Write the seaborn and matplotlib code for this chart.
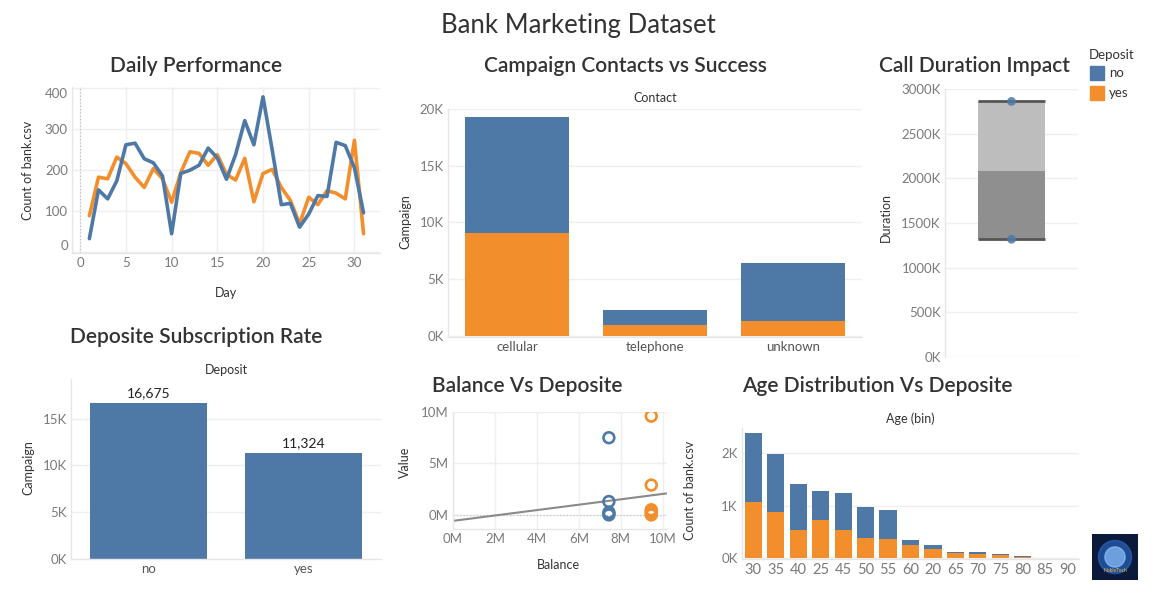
import matplotlib.pyplot as plt
import matplotlib.ticker as mticker
import numpy as np
import pandas as pd
import seaborn as sns
from matplotlib.patches import Circle, Rectangle

# ---- data ----
days = list(range(1, 32))
daily_no = [33, 152, 130, 174, 262, 266, 228, 218, 186, 45, 192, 200, 212, 254, 230,
            178, 238, 321, 262, 379, 250, 116, 119, 61, 93, 138, 136, 268, 260, 206, 96]
daily_yes = [89, 183, 179, 232, 216, 183, 158, 204, 179, 122, 194, 245, 241, 212, 238,
             190, 176, 229, 123, 192, 202, 158, 126, 69, 134, 116, 150, 144, 130, 273, 45]

contacts = ["cellular", "telephone", "unknown"]
contact_no = [10200, 1330, 5150]
contact_yes = [9100, 920, 1300]

duration_low = 1318000
duration_median = 2079000
duration_high = 2861000
duration_points = [2861000, 1318000]

deposit_labels = ["no", "yes"]
deposit_campaign = [16675, 11324]

balance_no_x = [7.43e6] * 5
balance_no_y = [7.5e6, 1.3e6, 0.25e6, 0.1e6, 0.0]
balance_yes_x = [9.45e6] * 6
balance_yes_y = [9.6e6, 2.9e6, 0.5e6, 0.3e6, 0.1e6, 0.0]
trend_slope = 0.262
trend_intercept = -0.58e6

age_bins = ["30", "35", "40", "25", "45", "50", "55", "60", "20", "65", "70", "75", "80", "85", "90"]
age_no = [1310, 1100, 860, 550, 700, 590, 540, 90, 80, 17, 37, 20, 20, 16, 2]
age_yes = [1060, 870, 540, 720, 530, 390, 370, 260, 180, 110, 90, 70, 30, 0, 0]

BLUE = "#4e79a7"
ORANGE = "#f28e2b"
GRID = "#efefef"
TICK = "#7a7a7a"
DARK = "#333333"

sns.set_theme(style="white")
plt.rcParams["font.family"] = ["Lato", "DejaVu Sans"]

W, H = 1155, 592
fig = plt.figure(figsize=(W / 100, H / 100), dpi=100)


def px_axes(x0, y0, x1, y1):
    return fig.add_axes([x0 / W, 1 - y1 / H, (x1 - x0) / W, (y1 - y0) / H])


def ftext(x, y, s, **kw):
    kw.setdefault("ha", "center")
    kw.setdefault("va", "center")
    kw.setdefault("color", DARK)
    fig.text(x / W, 1 - y / H, s, **kw)


def style_axes(ax, ygrid=True, xgrid=False):
    for side in ["top", "right"]:
        ax.spines[side].set_visible(False)
    for side in ["left", "bottom"]:
        ax.spines[side].set_color("#e6e6e6")
        ax.spines[side].set_linewidth(1)
    ax.tick_params(axis="both", colors=TICK, labelsize=9.5, length=0, pad=3)
    ax.set_xlabel("")
    ax.set_ylabel("")
    if ygrid:
        ax.yaxis.grid(True, color=GRID, linewidth=1)
    if xgrid:
        ax.xaxis.grid(True, color=GRID, linewidth=1)
    ax.set_axisbelow(True)


def squeeze_end_labels(ax):
    # Tableau pulls the first/last y labels inside the pane
    fig.canvas.draw()
    labels = [t for t in ax.get_yticklabels() if t.get_text()]
    if labels:
        labels[0].set_verticalalignment("bottom")
        labels[-1].set_verticalalignment("top")


def k_fmt(x, _):
    return f"{x / 1000:.0f}K"


def m_fmt(x, _):
    return f"{x / 1e6:.0f}M"


TITLE = dict(fontsize=15, color=DARK, fontweight="semibold")
LAB = dict(fontsize=9, color=DARK)
BAR = dict(width=0.75, saturation=1, linewidth=0, edgecolor="none")

ftext(578, 25, "Bank Marketing Dataset", fontsize=18.5, color=DARK)

# ---- Daily Performance ----
ax = px_axes(72, 87, 380, 253)
daily = pd.DataFrame({"day": days * 2, "count": daily_no + daily_yes,
                      "deposit": ["no"] * 31 + ["yes"] * 31})
sns.lineplot(data=daily, x="day", y="count", hue="deposit", hue_order=["yes", "no"],
             palette={"no": BLUE, "yes": ORANGE}, linewidth=2.6, legend=False, ax=ax)
style_axes(ax, xgrid=True)
ax.set_xlim(-0.9, 32.8)
ax.set_ylim(-2, 403)
ax.set_xticks(range(0, 31, 5))
ax.set_yticks(range(0, 401, 100))
ax.axvline(0, color="#bbbbbb", linestyle=(0, (1, 2)), linewidth=0.8)
squeeze_end_labels(ax)
ftext(196, 66, "Daily Performance", **TITLE)
ftext(28, 170, "Count of bank.csv", rotation=90, **LAB)
ftext(226, 293, "Day", **LAB)

# ---- Campaign Contacts vs Success ----
ax = px_axes(448, 109, 862, 337)
contact_df = pd.DataFrame({"contact": contacts,
                           "total": np.array(contact_no) + np.array(contact_yes),
                           "yes": contact_yes})
sns.barplot(data=contact_df, x="contact", y="total", color=BLUE, ax=ax, **BAR)
sns.barplot(data=contact_df, x="contact", y="yes", color=ORANGE, ax=ax, **BAR)
style_axes(ax)
ax.set_ylim(-120, 20000)
ax.set_xlim(-0.5, 2.5)
ax.yaxis.set_major_locator(mticker.MultipleLocator(5000))
ax.yaxis.set_major_formatter(mticker.FuncFormatter(k_fmt))
ax.tick_params(axis="x", colors="#555555", labelsize=9.5)
squeeze_end_labels(ax)
ftext(625, 66, "Campaign Contacts vs Success", **TITLE)
ftext(655, 98, "Contact", **LAB)
ftext(405, 222, "Campaign", rotation=90, **LAB)

# ---- Call Duration Impact ----
ax = px_axes(945, 89, 1078, 357)
ax.bar([0], [duration_median - duration_low], bottom=[duration_low], width=0.5,
       color="#8f8f8f", linewidth=0, zorder=2)
ax.bar([0], [duration_high - duration_median], bottom=[duration_median], width=0.5,
       color="#bdbdbd", linewidth=0, zorder=2)
ax.hlines([duration_low, duration_high], -0.25, 0.25, color="#555555", linewidth=2, zorder=3)
sns.scatterplot(x=[0] * len(duration_points), y=duration_points, color=BLUE, s=40,
                alpha=0.85, edgecolor="none", zorder=4, ax=ax)
style_axes(ax)
ax.spines["bottom"].set_visible(False)
ax.set_xlim(-0.5, 0.5)
ax.set_ylim(0, 3000000)
ax.set_xticks([])
ax.yaxis.set_major_locator(mticker.MultipleLocator(500000))
ax.yaxis.set_major_formatter(mticker.FuncFormatter(k_fmt))
squeeze_end_labels(ax)
ftext(974, 66, "Call Duration Impact", **TITLE)
ftext(886, 218, "Duration", rotation=90, **LAB)

# legend
ftext(1089, 55, "Deposit", ha="left", fontsize=9.5)
for i, (lab, col) in enumerate([("no", BLUE), ("yes", ORANGE)]):
    y0 = 66 + i * 20
    fig.patches.append(Rectangle((1090 / W, 1 - (y0 + 14) / H), 14 / W, 14 / H,
                                 transform=fig.transFigure, color=col))
    ftext(1109, y0 + 7, lab, ha="left", fontsize=9.5)

# ---- Deposite Subscription Rate ----
ax = px_axes(71, 379, 381, 559)
dep_df = pd.DataFrame({"deposit": deposit_labels, "campaign": deposit_campaign})
sns.barplot(data=dep_df, x="deposit", y="campaign", color=BLUE, ax=ax, **BAR)
style_axes(ax)
ax.set_ylim(0, 19250)
ax.set_xlim(-0.5, 1.5)
ax.yaxis.set_major_locator(mticker.MultipleLocator(5000))
ax.yaxis.set_major_formatter(mticker.FuncFormatter(k_fmt))
ax.tick_params(axis="x", colors="#555555", labelsize=9.5)
for i, v in enumerate(deposit_campaign):
    ax.annotate(f"{v:,}", (i, v), xytext=(0, 3), textcoords="offset points",
                ha="center", va="bottom", fontsize=10, color="#222222")
squeeze_end_labels(ax)
ftext(196, 337, "Deposite Subscription Rate", **TITLE)
ftext(226, 370, "Deposit", **LAB)
ftext(28, 468, "Campaign", rotation=90, **LAB)

# ---- Balance Vs Deposite ----
ax = px_axes(453, 412, 667, 529)
bal_df = pd.DataFrame({"balance": balance_no_x + balance_yes_x,
                       "value": balance_no_y + balance_yes_y,
                       "deposit": ["no"] * 5 + ["yes"] * 6})
ax.axline((0, trend_intercept), slope=trend_slope, color="#8a8a8a", linewidth=1.5, zorder=2)
ax.axhline(0, color="#bbbbbb", linestyle=(0, (1, 2)), linewidth=0.8, zorder=1)
sns.scatterplot(data=bal_df, x="balance", y="value", hue="deposit",
                palette={"no": BLUE, "yes": ORANGE}, marker="o", s=60,
                linewidth=1.9, legend=False, zorder=3, ax=ax)
for coll in ax.collections:
    coll.set_facecolor("none")
    coll.set_edgecolor([BLUE] * 5 + [ORANGE] * 6)
style_axes(ax, xgrid=True)
ax.set_xlim(0, 10.2e6)
ax.set_ylim(-1.37e6, 10e6)
ax.xaxis.set_major_locator(mticker.MultipleLocator(2e6))
ax.xaxis.set_major_formatter(mticker.FuncFormatter(m_fmt))
ax.yaxis.set_major_locator(mticker.MultipleLocator(5e6))
ax.yaxis.set_major_formatter(mticker.FuncFormatter(m_fmt))
squeeze_end_labels(ax)
xl = [t for t in ax.get_xticklabels() if t.get_text()]
xl[0].set_horizontalalignment("left")
xl[-1].set_horizontalalignment("right")
ftext(527, 386, "Balance Vs Deposite", **TITLE)
ftext(405, 462, "Value", rotation=90, **LAB)
ftext(558, 565, "Balance", **LAB)

# ---- Age Distribution Vs Deposite ----
ax = px_axes(742, 428, 1079, 559)
age_df = pd.DataFrame({"age": age_bins,
                       "total": np.array(age_no) + np.array(age_yes),
                       "yes": age_yes})
AGE_BAR = dict(BAR, width=0.76)
sns.barplot(data=age_df, x="age", y="total", color=BLUE, ax=ax, **AGE_BAR)
sns.barplot(data=age_df, x="age", y="yes", color=ORANGE, ax=ax, **AGE_BAR)
style_axes(ax)
ax.set_ylim(-12, 2470)
ax.set_xlim(-0.5, 14.5)
ax.yaxis.set_major_locator(mticker.MultipleLocator(1000))
ax.yaxis.set_major_formatter(mticker.FuncFormatter(k_fmt))
ax.tick_params(axis="x", labelsize=10.5)
squeeze_end_labels(ax)
ftext(877, 386, "Age Distribution Vs Deposite", **TITLE)
ftext(910, 419, "Age (bin)", **LAB)
ftext(690, 490, "Count of bank.csv", rotation=90, **LAB)

# ---- small logo ----
lax = px_axes(1092, 534, 1138, 580)
lax.set_facecolor("#0b1a3a")
lax.set_xlim(0, 1)
lax.set_ylim(0, 1)
lax.add_patch(Circle((0.5, 0.5), 0.36, color="#2f6fcf", alpha=0.6))
lax.add_patch(Circle((0.5, 0.5), 0.22, color="#8fc3ff", alpha=0.7))
lax.text(0.5, 0.2, "NobleTech", fontsize=3.5, color="#f2c14e", ha="center", va="center")
lax.set_xticks([])
lax.set_yticks([])
for s in lax.spines.values():
    s.set_visible(False)

fig.savefig("out.png", dpi=100)
